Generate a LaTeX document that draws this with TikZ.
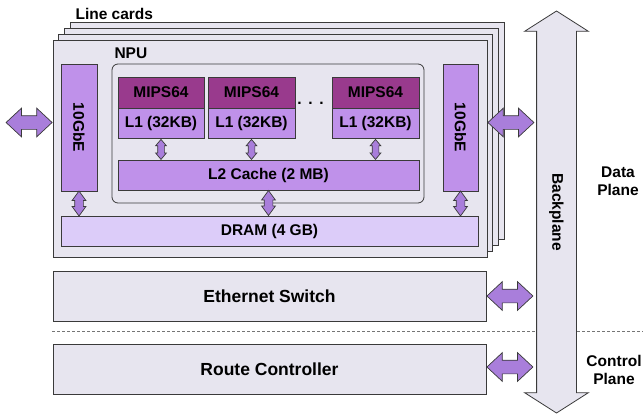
\documentclass[tikz,border=0pt]{standalone}
\usepackage{fontspec}
\setmainfont{Liberation Sans}
\usepackage{xcolor}
\usepackage{tikz}
\usetikzlibrary{positioning}
\usetikzlibrary{shapes.arrows}
\usetikzlibrary{calc}

\definecolor{cardfill}{HTML}{E7E5EF}
\definecolor{mipsfill}{HTML}{993A8D}
\definecolor{cachefill}{HTML}{BF91EA}
\definecolor{dramfill}{HTML}{DCCCF9}
\definecolor{arrowfill}{HTML}{A97EDB}
\definecolor{edge}{HTML}{3A3A3A}

\begin{document}
\begin{tikzpicture}
  [
    x=1pt, y=-1pt,
    every node/.style={font=\fontsize{15.5}{18}\selectfont\bfseries},
    box/.style={draw=edge, line width=0.8pt, inner sep=0pt},
    card/.style={box, fill=cardfill},
    unit/.style={box, fill=cachefill},
    core/.style={box, fill=mipsfill},
    big/.style={font=\fontsize{17.5}{20}\selectfont\bfseries},
    link/.style={double arrow, draw=edge, fill=arrowfill, line width=0.7pt,
      inner xsep=0pt, inner ysep=6.5pt, double arrow head extend=7.5pt,
      double arrow tip angle=86, minimum height=46pt},
    slink/.style={link, rotate=90, inner ysep=3pt, double arrow head extend=2pt,
      double arrow tip angle=80, minimum height=20pt},
    mlink/.style={link, rotate=90, inner ysep=4pt, double arrow head extend=2.5pt,
      double arrow tip angle=72, minimum height=25pt}
  ]
  \useasboundingbox (0,0) rectangle (643,416);

  % stack of line cards
  \foreach \i in {3,2,1}
    \draw[card] (53+5.7*\i, 40-6*\i) rectangle (487+5.7*\i, 257-6*\i);
  \node (card) at (270,148.5) [card, minimum width=434pt, minimum height=217pt] {};
  \node (cardsLabel) at (72,14) [anchor=west] {Line cards};

  \node (npu) at (268,133.5) [card, rounded corners=6pt,
    minimum width=312pt, minimum height=139pt] {};
  \node (npuLabel) at (111,53) [anchor=west] {NPU};

  \node (gbeL) at (79,127.5)  [unit, rotate=-90, minimum width=127pt, minimum height=36pt] {10GbE};
  \node (gbeR) at (460.5,127.5) [unit, rotate=-90, minimum width=127pt, minimum height=35pt] {10GbE};

  \node (mips1) at (161,92.5)   [core, minimum width=86pt, minimum height=31pt] {MIPS64};
  \node (mips2) at (251.5,92.5) [core, minimum width=87pt, minimum height=31pt] {MIPS64};
  \node (mips3) at (375.5,92.5) [core, minimum width=87pt, minimum height=31pt] {MIPS64};
  \node (l1a) [unit, below=0pt of mips1, minimum width=86pt, minimum height=30pt] {L1 (32KB)};
  \node (l1b) [unit, below=0pt of mips2, minimum width=87pt, minimum height=30pt] {L1 (32KB)};
  \node (l1c) [unit, below=0pt of mips3, minimum width=87pt, minimum height=30pt] {L1 (32KB)};
  \node (dots) at (310.5,104) [anchor=base] {.\kern6.7pt.\kern6.7pt.};

  \node (ltwo) at (268.5,175) [unit, minimum width=301pt, minimum height=30pt] {L2 Cache (2 MB)};
  \node (dram) at (269.5,231) [box, fill=dramfill, minimum width=417pt, minimum height=30pt] {DRAM (4 GB)};

  \node (ethsw) at (269.5,296) [card, big, minimum width=433pt, minimum height=50pt] {Ethernet Switch};
  \node (rctl)  at (269.5,369) [card, big, minimum width=433pt, minimum height=50pt] {Route Controller};

  \draw[edge!70, line width=0.8pt, dash pattern=on 3pt off 2pt] (52,331) -- (643,331);

  % backplane
  \node (bplane) at (556.5,212) [double arrow, draw=edge, fill=cardfill, line width=0.8pt,
    rotate=-90, minimum height=402pt, inner xsep=0pt, inner ysep=19.5pt,
    double arrow head extend=12pt, double arrow tip angle=115] {};
  \node (bplaneLabel) at (bplane.center) [rotate=-90] {Backplane};

  \node (dataPlane) at (618,181) [align=center] {Data\\Plane};
  \node (ctrlPlane) at (614,370) [align=center] {Control\\Plane};

  % links
  \node (extL) at ([yshift=5pt]gbeL.center -| card.west) [link, anchor=east] {};
  \node (extR) at ([yshift=5pt]gbeR.center -| card.east) [link, anchor=west] {};
  \node (ethLink)  at (ethsw.east) [link, anchor=west] {};
  \node (rctlLink) at ([yshift=2pt]rctl.east) [link, anchor=west] {};

  \node (c1) at ($(l1a.south)!0.5!(ltwo.north -| l1a.south)$) [slink] {};
  \node (c2) at ($(l1b.south)!0.5!(ltwo.north -| l1b.south)$) [slink] {};
  \node (c3) at ($(l1c.south)!0.5!(ltwo.north -| l1c.south)$) [slink] {};

  \node (m1) at ($(gbeL.east)!0.5!(dram.north -| gbeL.east)$) [mlink] {};
  \node (m2) at ($(ltwo.south)!0.5!(dram.north -| ltwo.south)$) [mlink] {};
  \node (m3) at ($(gbeR.east)!0.5!(dram.north -| gbeR.east)$) [mlink] {};
\end{tikzpicture}
\end{document}
